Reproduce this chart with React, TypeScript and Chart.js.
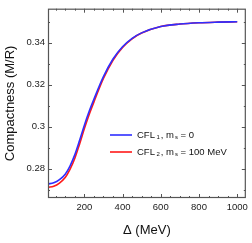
import React, { useEffect, useRef } from "react";
import { Chart, registerables } from "chart.js";

Chart.register(...registerables);

// Gap parameter Δ (MeV)
const DELTA = [10, 40, 70, 100, 125, 150, 175, 200, 225, 250, 300, 350, 400, 450, 500, 600, 700, 800, 900, 1000];
// CFL1, ms = 0
const CFL1 = [0.2728, 0.2733, 0.2748, 0.2774, 0.2813, 0.2866, 0.2934, 0.3006, 0.3072, 0.3130, 0.3238, 0.3322, 0.3380, 0.3420, 0.3446, 0.3476, 0.3488, 0.3494, 0.3497, 0.3499];
// CFL2, ms = 100 MeV
const CFL2 = [0.2712, 0.2717, 0.2732, 0.2758, 0.2797, 0.2849, 0.2917, 0.2990, 0.3057, 0.3117, 0.3229, 0.3316, 0.3377, 0.3418, 0.3445, 0.3476, 0.3488, 0.3494, 0.3497, 0.3499];

const X_LABELS = [200, 400, 600, 800, 1000];
const X_MINOR = [50, 100, 150, 200, 250, 300, 350, 400, 450, 500, 550, 600, 650, 700, 750, 800, 850, 900, 950, 1000];
const Y_LABELS = [0.28, 0.30, 0.32, 0.34];
const Y_MINOR = [0.27, 0.28, 0.29, 0.30, 0.31, 0.32, 0.33, 0.34, 0.35];

const X_MIN = 10;
const X_MAX = 1045;
const Y_MIN = 0.2661;
const Y_MAX = 0.3561;

const FONT = "'Liberation Sans', Arial, Helvetica, sans-serif";
const BLUE = "#2f2fff";
const RED = "#ff1a1a";

const isIn = (arr: number[], v: number) => arr.some((a) => Math.abs(a - v) < 1e-9);

const framePlugin = {
  id: "frame",
  afterDatasetsDraw(chart: any) {
    const { ctx, chartArea } = chart;
    const { left, right, top, bottom } = chartArea;
    const x = chart.scales.x;
    const y = chart.scales.y;
    ctx.save();
    ctx.strokeStyle = "#555";
    ctx.lineWidth = 1;
    ctx.beginPath();
    x.ticks.forEach((t: any) => {
      const px = Math.round(x.getPixelForValue(t.value)) + 0.5;
      const len = isIn(X_LABELS, t.value) ? 4 : 2;
      ctx.moveTo(px, bottom);
      ctx.lineTo(px, bottom - len);
      ctx.moveTo(px, top);
      ctx.lineTo(px, top + len);
    });
    y.ticks.forEach((t: any) => {
      const py = Math.round(y.getPixelForValue(t.value)) + 0.5;
      const len = isIn(Y_LABELS, t.value) ? 4 : 2;
      ctx.moveTo(left, py);
      ctx.lineTo(left + len, py);
      ctx.moveTo(right, py);
      ctx.lineTo(right - len, py);
    });
    ctx.stroke();
    ctx.lineWidth = 1.2;
    ctx.strokeStyle = "#555";
    ctx.strokeRect(left + 0.5, top + 0.5, right - left - 1, bottom - top - 1);

    // legend
    const entries = [
      { color: BLUE, sub1: "1", tail: " = 0", y: 135 },
      { color: RED, sub1: "2", tail: " = 100 MeV", y: 152 },
    ];
    const lx0 = 110;
    const lx1 = 132;
    entries.forEach((e) => {
      ctx.strokeStyle = e.color;
      ctx.lineWidth = 1.6;
      ctx.beginPath();
      ctx.moveTo(lx0, e.y);
      ctx.lineTo(lx1, e.y);
      ctx.stroke();
      ctx.fillStyle = "#111";
      ctx.textBaseline = "middle";
      ctx.textAlign = "left";
      let cx = 137;
      const big = `9.5px ${FONT}`;
      const small = `6px ${FONT}`;
      const put = (s: string, font: string, dy: number) => {
        ctx.font = font;
        ctx.fillText(s, cx, e.y + dy);
        cx += ctx.measureText(s).width;
      };
      put("CFL", big, 0);
      cx += 1.5;
      put(e.sub1, small, 2.5);
      cx += 1;
      put(", m", big, 0);
      cx += 1;
      put("s", small, 2.5);
      put(e.tail, big, 0);
    });
    ctx.restore();
  },
};

export default function App() {
  const ref = useRef<HTMLCanvasElement | null>(null);
  useEffect(() => {
    document.body.style.margin = "0";
    const canvas = ref.current;
    if (!canvas) return;
    const chart = new Chart(canvas, {
      type: "line",
      data: {
        datasets: [
          {
            label: "CFL1, ms = 0",
            data: DELTA.map((d, i) => ({ x: d, y: CFL1[i] })),
            borderColor: BLUE,
            borderWidth: 1.6,
            pointRadius: 0,
            cubicInterpolationMode: "monotone",
            fill: false,
          },
          {
            label: "CFL2, ms = 100 MeV",
            data: DELTA.map((d, i) => ({ x: d, y: CFL2[i] })),
            borderColor: RED,
            borderWidth: 1.6,
            pointRadius: 0,
            cubicInterpolationMode: "monotone",
            fill: false,
          },
        ],
      },
      options: {
        animation: false,
        responsive: false,
        devicePixelRatio: 1,
        layout: { padding: { top: 8, right: 5, left: 0, bottom: 0 } },
        plugins: { legend: { display: false }, tooltip: { enabled: false } },
        scales: {
          x: {
            type: "linear",
            min: X_MIN,
            max: X_MAX,
            afterBuildTicks: (scale: any) => {
              scale.ticks = X_MINOR.map((v) => ({ value: v }));
            },
            afterFit: (scale: any) => {
              scale.height = 45;
            },
            grid: { display: false, drawTicks: false },
            border: { display: false },
            ticks: {
              autoSkip: false,
              maxRotation: 0,
              padding: 4,
              color: "#222",
              font: { family: FONT, size: 9.5 },
              callback: (v: any) => (isIn(X_LABELS, Number(v)) ? String(v) : ""),
            },
            title: {
              display: true,
              text: "Δ (MeV)",
              color: "#111",
              font: { family: FONT, size: 13 },
              padding: { top: 0, bottom: 5 },
            },
          },
          y: {
            type: "linear",
            min: Y_MIN,
            max: Y_MAX,
            afterBuildTicks: (scale: any) => {
              scale.ticks = Y_MINOR.map((v) => ({ value: v }));
            },
            afterFit: (scale: any) => {
              scale.width = 48;
            },
            grid: { display: false, drawTicks: false },
            border: { display: false },
            ticks: {
              autoSkip: false,
              padding: 3,
              color: "#222",
              font: { family: FONT, size: 9.5 },
              callback: (v: any) => (isIn(Y_LABELS, Number(v)) ? String(Number(v)) : ""),
            },
            title: {
              display: true,
              text: "Compactness (M/R)",
              color: "#111",
              font: { family: FONT, size: 13 },
              padding: { top: 3, bottom: 0 },
            },
          },
        },
      },
      plugins: [framePlugin],
    } as any);
    return () => chart.destroy();
  }, []);
  return <canvas ref={ref} width={252} height={243} style={{ display: "block" }} />;
}
